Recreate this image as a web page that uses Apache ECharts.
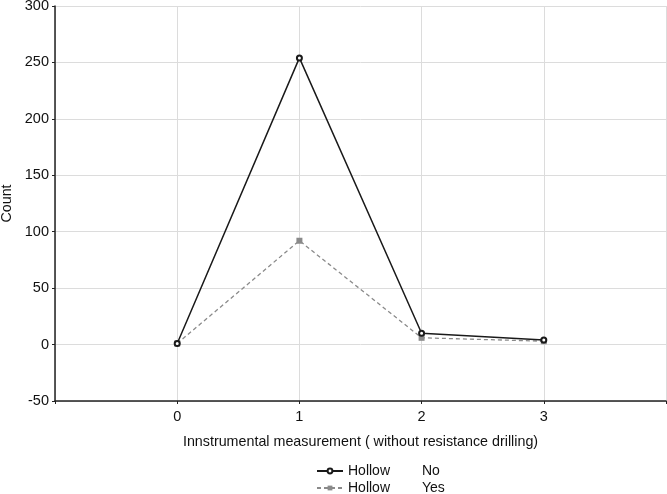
<!DOCTYPE html>
<html><head><meta charset="utf-8">
<script src="https://cdn.jsdelivr.net/npm/echarts@6/dist/echarts.min.js"></script>
<style>html,body{margin:0;padding:0;background:#fff}#c{width:667px;height:494px}</style>
</head><body><div id="c"></div>
<script>
const categories = [0, 1, 2, 3];
const hollowNo = [1, 254, 10, 4];
const hollowYes = [1, 92, 6, 3];
const yTicks = [-50, 0, 50, 100, 150, 200, 250, 300];

const chart = echarts.init(document.getElementById('c'), null, {renderer: 'canvas'});
const font = 'Liberation Sans, Arial, sans-serif';
const legendText = {fontSize: 14, color: '#111', fontFamily: font,
  rich: {a: {width: 74, fontSize: 14, fontFamily: font, color: '#111'}, b: {fontSize: 14, fontFamily: font, color: '#111'}}};
const legendFmt = n => { const p = n.split('|'); return '{a|' + p[0] + '}{b|' + p[1] + '}'; };
chart.setOption({
  animation: false,
  textStyle: {fontFamily: font},
  grid: {left: 55, right: 1, top: 6, bottom: 93, containLabel: false, outerBoundsMode: 'none'},
  xAxis: {
    type: 'value', min: -1, max: 4, interval: 1,
    name: 'Innstrumental measurement ( without resistance drilling)',
    nameLocation: 'middle', nameGap: 34,
    nameTextStyle: {fontSize: 14.3, color: '#111', fontFamily: font},
    axisLine: {show: true, onZero: false, lineStyle: {color: '#222', width: 1.5}},
    axisTick: {show: true, inside: false, length: 3, lineStyle: {color: '#222'}},
    axisLabel: {fontSize: 14.5, color: '#111', margin: 8,
      formatter: v => categories.indexOf(v) >= 0 ? String(v) : ''},
    splitLine: {show: true, lineStyle: {color: '#dcdcdc', width: 1}}
  },
  yAxis: {
    type: 'value', min: yTicks[0], max: yTicks[yTicks.length - 1], interval: 50,
    name: 'Count', nameLocation: 'middle', nameGap: 40, nameRotate: 90,
    nameTextStyle: {fontSize: 14.3, color: '#111', fontFamily: font},
    axisLine: {show: true, onZero: false, lineStyle: {color: '#222', width: 1.5}},
    axisTick: {show: true, inside: false, length: 3, lineStyle: {color: '#222'}},
    axisLabel: {fontSize: 14.5, color: '#111', margin: 6},
    splitLine: {show: true, lineStyle: {color: '#dcdcdc', width: 1}}
  },
  legend: [
    {left: 311, top: 459, itemWidth: 26, itemHeight: 6, itemGap: 4,
     textStyle: legendText, formatter: legendFmt, data: ['Hollow|No']},
    {left: 311, top: 476, itemWidth: 26, itemHeight: 6, itemGap: 4,
     textStyle: legendText, formatter: legendFmt, data: ['Hollow|Yes']}
  ],
  series: [
    {
      name: 'Hollow|No', type: 'line',
      data: categories.map((c, i) => [c, hollowNo[i]]),
      symbol: 'emptyCircle', symbolSize: 5,
      lineStyle: {color: '#1a1a1a', width: 1.5},
      itemStyle: {color: '#1a1a1a', borderColor: '#1a1a1a', borderWidth: 1.2},
      z: 3
    },
    {
      name: 'Hollow|Yes', type: 'line',
      data: categories.map((c, i) => [c, hollowYes[i]]),
      symbol: 'rect', symbolSize: 6,
      lineStyle: {color: '#8a8a8a', width: 1.3, type: [4, 3]},
      itemStyle: {color: '#8a8a8a'},
      z: 2
    }
  ]
});
</script></body></html>
